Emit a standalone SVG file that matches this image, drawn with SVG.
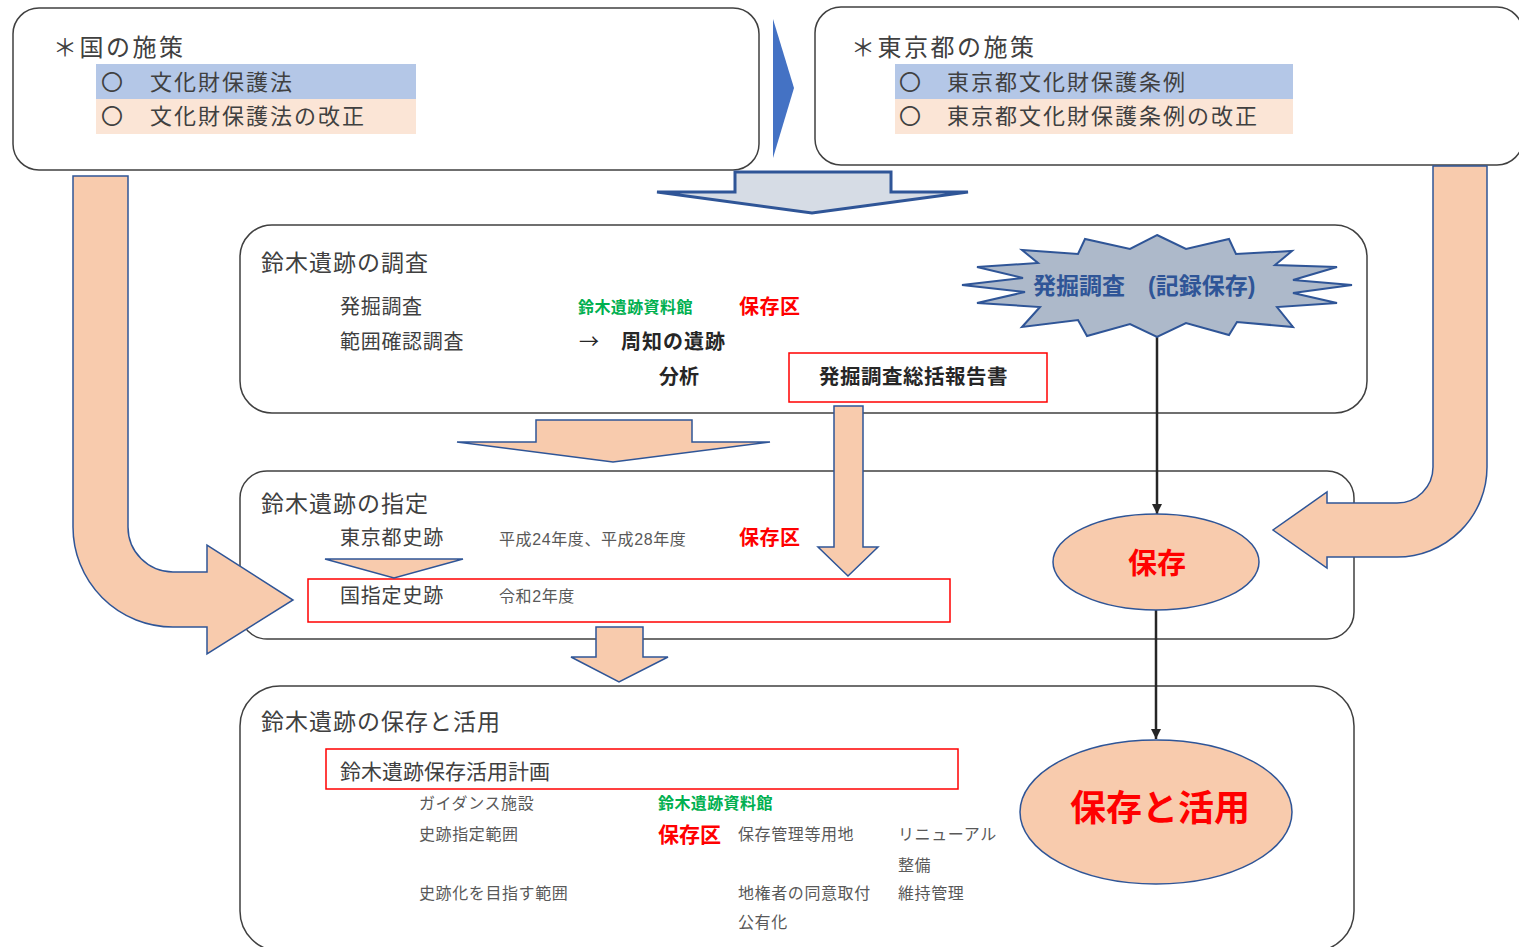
<svg xmlns="http://www.w3.org/2000/svg" width="1519" height="947" viewBox="0 0 1519 947">
<defs>
<style>
.box{fill:#fff;stroke:#404040;stroke-width:1.5}
.t{font-family:"Liberation Sans","Noto Sans CJK JP",sans-serif;fill:#404040}
.s{font-family:"Liberation Sans","Noto Sans CJK JP",sans-serif;fill:#595959;font-size:16px;letter-spacing:0.6px}
.b{font-weight:bold}
.grn{fill:#00b050;font-size:16px;font-weight:bold;letter-spacing:0.4px}
.rd{fill:#ff0000;font-weight:bold}
.peach{fill:#f8cbad;stroke:#2f5597;stroke-width:1.5;stroke-linejoin:miter}
.redbox{fill:none;stroke:#ff0000;stroke-width:1.5}
.blueband{fill:#b4c7e7}
.peachband{fill:#fbe5d6}
.conn{stroke:#262626;stroke-width:2.5;fill:none}
</style>
<marker id="ah" markerUnits="userSpaceOnUse" markerWidth="11" markerHeight="10" refX="10" refY="5" orient="auto">
<path d="M0,0 L10,5 L0,10 z" fill="#262626"/>
</marker>
</defs>
<rect width="1519" height="947" fill="#fff"/>

<g id="kuni">
<rect class="box" x="13" y="8" width="746" height="162" rx="26"/>
<text class="t" x="53" y="56" font-size="24" letter-spacing="2.5">＊国の施策</text>
<rect class="blueband" x="96" y="64" width="320" height="35"/>
<rect class="peachband" x="96" y="99" width="320" height="35"/>
<text class="t" x="101" y="90" font-size="22">〇</text>
<text class="t" x="150" y="90" font-size="22" letter-spacing="2">文化財保護法</text>
<text class="t" x="101" y="124" font-size="22">〇</text>
<text class="t" x="150" y="124" font-size="22" letter-spacing="2">文化財保護法の改正</text>
</g>

<g id="tokyo">
<rect class="box" x="815" y="7" width="708" height="158" rx="26"/>
<text class="t" x="851" y="56" font-size="24" letter-spacing="2.5">＊東京都の施策</text>
<rect class="blueband" x="895" y="64" width="398" height="35"/>
<rect class="peachband" x="895" y="99" width="398" height="35"/>
<text class="t" x="899" y="90" font-size="22">〇</text>
<text class="t" x="947" y="90" font-size="22" letter-spacing="2">東京都文化財保護条例</text>
<text class="t" x="899" y="124" font-size="22">〇</text>
<text class="t" x="947" y="124" font-size="22" letter-spacing="2">東京都文化財保護条例の改正</text>
</g>

<g id="chousa">
<rect class="box" x="240" y="225" width="1127" height="188" rx="32"/>
<text class="t" x="261" y="271" font-size="23" letter-spacing="1">鈴木遺跡の調査</text>
<text class="t" x="340" y="314" font-size="20" letter-spacing="0.7">発掘調査</text>
<text class="t" x="340" y="349" font-size="20" letter-spacing="0.7">範囲確認調査</text>
<text class="t grn" x="578" y="313">鈴木遺跡資料館</text>
<text class="t rd" x="739" y="314" font-size="20" letter-spacing="0.5">保存区</text>
<text x="579" y="349" font-size="20" font-family="'Noto Sans CJK JP', sans-serif" fill="#262626">→</text>
<text class="t b" x="621" y="349" font-size="20" style="fill:#262626" letter-spacing="1">周知の遺跡</text>
<text class="t b" x="659" y="384" font-size="20" style="fill:#262626">分析</text>
<rect class="redbox" x="789" y="353" width="258" height="49"/>
<text class="t b" x="819" y="384" font-size="20.5" style="fill:#262626" letter-spacing="0.5">発掘調査総括報告書</text>
</g>

<g id="shitei">
<rect class="box" x="240" y="471" width="1114" height="168" rx="27"/>
<text class="t" x="261" y="512" font-size="23" letter-spacing="1">鈴木遺跡の指定</text>
<text class="t" x="340" y="545" font-size="20" letter-spacing="0.8">東京都史跡</text>
<text class="s" x="499" y="545">平成24年度、平成28年度</text>
<text class="t rd" x="739" y="545" font-size="20" letter-spacing="0.5">保存区</text>
<rect class="redbox" x="308" y="579" width="642" height="43"/>
<text class="t" x="340" y="603" font-size="20" letter-spacing="0.8">国指定史跡</text>
<text class="s" x="499" y="602">令和2年度</text>
</g>

<g id="hozon-katsuyou-box">
<rect class="box" x="240" y="686" width="1114" height="265" rx="40"/>
<text class="t" x="261" y="730" font-size="23" letter-spacing="1">鈴木遺跡の保存と活用</text>
<rect class="redbox" x="326" y="749" width="632" height="40"/>
<text class="t" x="340" y="779" font-size="21">鈴木遺跡保存活用計画</text>
<text class="s" x="419" y="809">ガイダンス施設</text>
<text class="t grn" x="658" y="809">鈴木遺跡資料館</text>
<text class="s" x="419" y="840">史跡指定範囲</text>
<text class="t rd" x="658" y="842" font-size="21">保存区</text>
<text class="s" x="738" y="840">保存管理等用地</text>
<text class="s" x="898" y="840">リニューアル</text>
<text class="s" x="898" y="871">整備</text>
<text class="s" x="419" y="899">史跡化を目指す範囲</text>
<text class="s" x="738" y="899">地権者の同意取付</text>
<text class="s" x="898" y="899">維持管理</text>
<text class="s" x="738" y="928">公有化</text>
</g>

<g id="arrows">
<polygon points="773,19 794,88 773,158" fill="#4472c4"/>
<polygon points="735,172 891,172 891,192 968,192 812,213 657,192 735,192" fill="#d6dce5" stroke="#2f5597" stroke-width="3"/>
<path class="peach" d="M73,176 L128,176 L128,527 A45,45 0 0 0 173,572 L207,572 L207,545 L293,600 L207,654 L207,627 L173,627 A100,100 0 0 1 73,527 Z"/>
<path class="peach" d="M1433,166 L1487,166 L1487,467 A90,90 0 0 1 1397,557 L1327,557 L1327,568 L1273,530 L1327,492 L1327,503 L1397,503 A36,36 0 0 0 1433,467 Z"/>
<polygon class="peach" points="536,420 692,420 692,442 770,442 613,462 457,442 536,442"/>
<polygon class="peach" points="834,406 863,406 863,547 878,547 848,576 818,547 834,547"/>
<polygon class="peach" points="596,627 643,627 643,657 668,657 619,682 571,657 596,657"/>
<polygon class="peach" points="325,559 463,559 394,578"/>
<line class="conn" x1="1157" y1="337" x2="1157" y2="514" marker-end="url(#ah)"/>
<line class="conn" x1="1156" y1="610" x2="1156" y2="739" marker-end="url(#ah)"/>
</g>

<g id="hakkutsu-burst">
<polygon points="1157,235 1186,249 1229,239 1236,254 1292,251 1275,265 1337,267 1293,280 1352,285 1293,293 1337,303 1277,307 1293,327 1237,322 1229,335 1186,323 1157,337 1130,324 1087,336 1078,320 1022,327 1040,307 977,303 1025,292 962,285 1023,278 977,267 1038,263 1022,250 1078,254 1085,239 1130,249" fill="#adb9ca" stroke="#2f5597" stroke-width="2" stroke-linejoin="miter"/>
<text class="t b" x="1033" y="294" font-size="23" style="fill:#2f5597" xml:space="preserve">発掘調査　(記録保存)</text>
</g>

<g id="hozon">
<ellipse cx="1156" cy="562" rx="103" ry="48" fill="#f8cbad" stroke="#2f5597" stroke-width="1.5"/>
<text class="t rd" x="1157" y="574" font-size="29" text-anchor="middle">保存</text>
</g>

<g id="hozon-katsuyou">
<ellipse cx="1156" cy="812" rx="136" ry="72" fill="#f8cbad" stroke="#2f5597" stroke-width="1.5"/>
<text class="t rd" x="1160" y="821" font-size="36" text-anchor="middle">保存と活用</text>
</g>
</svg>
